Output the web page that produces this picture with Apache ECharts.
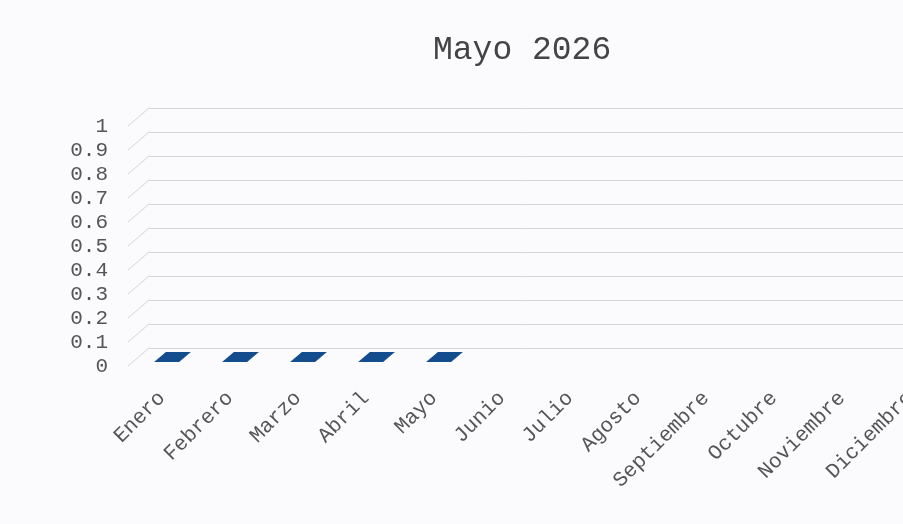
<!DOCTYPE html>
<html>
<head>
<meta charset="utf-8">
<script src="https://cdn.jsdelivr.net/npm/echarts@6/dist/echarts.min.js"></script>
<style>
  html, body { margin: 0; padding: 0; background: #fbfbfd; }
  #chart { width: 903px; height: 524px; }
</style>
</head>
<body>
<div id="chart"></div>
<script>
const titleText = 'Mayo 2026';
const categories = ['Enero', 'Febrero', 'Marzo', 'Abril', 'Mayo', 'Junio', 'Julio',
  'Agosto', 'Septiembre', 'Octubre', 'Noviembre', 'Diciembre'];
const values = [0, 0, 0, 0, 0, null, null, null, null, null, null, null];
const yTicks = [0, 0.1, 0.2, 0.3, 0.4, 0.5, 0.6, 0.7, 0.8, 0.9, 1];

const DEPTH_X = 21, DEPTH_Y = 18;
const FONT = 'Liberation Mono';
const TEXT_COLOR = '#555555';
const GRID_COLOR = '#d6d6d9';
const BAR_COLOR = '#134d8d';

const chart = echarts.init(document.getElementById('chart'), null, { renderer: 'canvas' });

const option = {
  backgroundColor: '#fbfbfd',
  animation: false,
  title: {
    text: titleText,
    left: 428,
    top: 29,
    textStyle: { fontFamily: FONT, fontSize: 33, fontWeight: 'normal', color: '#444444' }
  },
  grid: [
    { left: 128 + DEPTH_X, top: 126 - DEPTH_Y, width: 830, height: 240, outerBoundsMode: 'none', containLabel: false },
    { left: 128, top: 126, width: 816, height: 240, outerBoundsMode: 'none', containLabel: false }
  ],
  xAxis: [
    { gridIndex: 0, type: 'category', data: categories, show: false },
    {
      gridIndex: 1, type: 'category', data: categories,
      axisLine: { show: false }, axisTick: { show: false },
      axisLabel: { rotate: 45, margin: 29, interval: 0, fontFamily: FONT, fontSize: 21, color: TEXT_COLOR }
    }
  ],
  yAxis: [
    {
      gridIndex: 0, type: 'value', min: 0, max: 1, interval: 0.1,
      axisLabel: { show: false }, axisLine: { show: false }, axisTick: { show: false },
      splitLine: { show: true, lineStyle: { color: GRID_COLOR, width: 1 } }
    },
    {
      gridIndex: 1, type: 'value', min: 0, max: 1, interval: 0.1,
      axisLine: { show: false }, axisTick: { show: false }, splitLine: { show: false },
      axisLabel: { margin: 20, fontFamily: FONT, fontSize: 21, color: TEXT_COLOR }
    }
  ],
  series: [
    {
      type: 'custom',
      name: 'tails',
      xAxisIndex: 1, yAxisIndex: 1,
      silent: true, clip: false, z: 1,
      data: yTicks.map(v => [0, v]),
      renderItem: function (params, api) {
        const cs = params.coordSys;
        const y = api.coord([0, api.value(1)])[1];
        return {
          type: 'line',
          shape: { x1: cs.x, y1: y, x2: cs.x + DEPTH_X, y2: y - DEPTH_Y },
          style: { stroke: GRID_COLOR, lineWidth: 1 }
        };
      }
    },
    {
      type: 'custom',
      name: 'Mayo 2026',
      xAxisIndex: 1, yAxisIndex: 1,
      clip: false, z: 5,
      data: values.map((v, i) => [i, v]).filter(d => d[1] !== null),
      renderItem: function (params, api) {
        const i = api.value(0), v = api.value(1);
        const base = api.coord([i, 0]);
        const top = api.coord([i, v]);
        const w = 25, d1 = 0.22, d2 = 0.78;
        const cx = base[0];
        const fx = (d) => DEPTH_X * d, fy = (d) => DEPTH_Y * d;
        const children = [];
        if (top[1] < base[1] - 0.5) {
          children.push({
            type: 'rect',
            shape: { x: cx - w / 2 + fx(d1), y: top[1] - fy(d1), width: w, height: base[1] - top[1] },
            style: { fill: BAR_COLOR }
          });
        }
        const ty = top[1];
        children.push({
          type: 'polygon',
          shape: { points: [
            [cx - w / 2 + fx(d1), ty - fy(d1)],
            [cx + w / 2 + fx(d1), ty - fy(d1)],
            [cx + w / 2 + fx(d2), ty - fy(d2)],
            [cx - w / 2 + fx(d2), ty - fy(d2)]
          ] },
          style: { fill: BAR_COLOR }
        });
        return { type: 'group', children: children };
      }
    }
  ]
};

chart.setOption(option);
</script>
</body>
</html>
